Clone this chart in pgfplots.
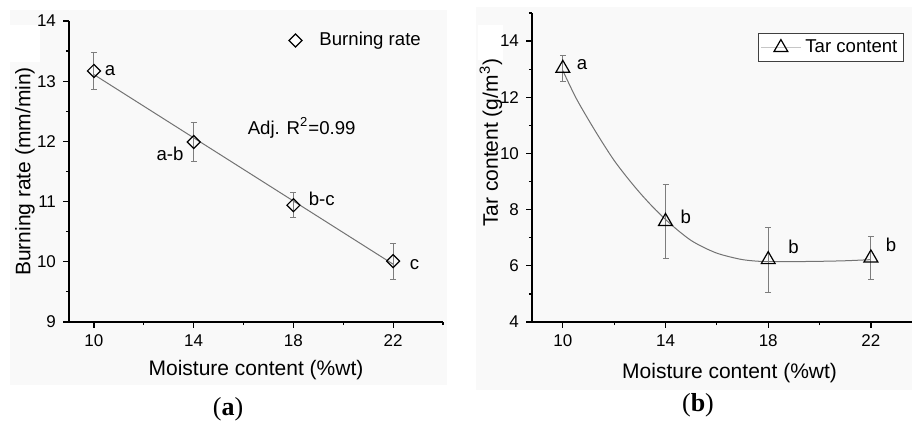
\documentclass[border=0pt]{standalone}
\usepackage{fontspec}
\setmainfont{Liberation Sans}
\newfontfamily\capfont{Liberation Serif}
\usepackage{pgfplots}
\pgfplotsset{compat=1.18}
\definecolor{panelbg}{RGB}{249,249,249}
\definecolor{fitgray}{RGB}{115,115,115}
\definecolor{errgray}{RGB}{125,125,125}

\pgfplotsset{
  panel/.style={
    scale only axis,
    axis lines*=left,
    axis line style={line width=0.7pt},
    tick align=outside,
    major tick length=3pt, minor tick length=1.6pt,
    every tick/.style={black, line width=0.6pt},
    tick label style={font=\fontsize{8.5}{10}\selectfont},
    /pgf/number format/assume math mode=true,
    label style={font=\fontsize{10.5}{12}\selectfont},
    xtick={10,14,18,22},
    xlabel={Moisture content (\%wt)},
    clip=false,
  },
  errs/.style={
    error bars/.cd, y dir=both, y explicit,
    error bar style={errgray, line width=0.5pt},
    error mark options={rotate=90, mark size=1.5pt, errgray, line width=0.5pt},
  },
  burnlegend/.style={
    legend image code/.code={
      \path[draw=none, fill=none] (0pt,0pt) rectangle (20pt,0.1pt);
      \draw[black, line width=0.6pt, fill=white] (10pt,3.25pt) -- (13.25pt,0pt)
        -- (10pt,-3.25pt) -- (6.75pt,0pt) -- cycle;
    },
  },
  tarlegend/.style={
    legend image code/.code={
      \draw[gray!45, line width=0.5pt] (0pt,0pt) -- (20pt,0pt);
      \draw[mark repeat=2, mark phase=2, ##1] plot coordinates {(0pt,0pt) (10pt,0pt) (20pt,0pt)};
    },
  },
}
\newcommand{\ann}{\fontsize{9.3}{11}\selectfont}

\begin{document}
\begin{tikzpicture}
\useasboundingbox (0pt,0pt) rectangle (456pt,211.5pt);
\fill[panelbg] (5pt,19pt) rectangle (223.5pt,206.5pt);
\fill[panelbg] (238pt,16.5pt) rectangle (456pt,208pt);
\fill[white] (5pt,180.5pt) rectangle (20pt,199pt);
\fill[white] (239pt,181.5pt) rectangle (251.5pt,199pt);

% (a) burning rate
\begin{axis}[panel,
  at={(34.5pt,50.5pt)}, anchor=south west,
  width=187pt, height=150.5pt,
  xmin=9, xmax=24, ymin=9, ymax=14,
  ytick={9,10,11,12,13,14},
  minor xtick={12,16,20,24},
  minor ytick={9.5,10.5,11.5,12.5,13.5},
  ylabel={Burning rate (mm/min)},
  ylabel style={at={(axis description cs:-0.118,0.5)}, anchor=center},
  xlabel style={at={(axis description cs:0.5,-0.16)}, anchor=center},
  legend style={draw=none, fill=none, at={(axis description cs:0.535,0.935)},
    anchor=west, font=\ann},
]
\addplot[fitgray, line width=0.5pt, forget plot] coordinates {(10,13.11) (22,9.96)};
\addplot[only marks, mark=square, mark size=2.3pt,
  mark options={rotate=45, fill=white, draw=black, line width=0.6pt}, burnlegend, errs]
  coordinates {(10,13.17) +- (0,0.30) (14,11.99) +- (0,0.33)
               (18,10.94) +- (0,0.21) (22,10.01) +- (0,0.30)};
\legend{Burning rate}
\node[font=\ann] at (axis cs:10.65,13.18) {a};
\node[font=\ann] at (axis cs:13.05,11.8) {a-b};
\node[font=\ann] at (axis cs:19.14,11.04) {b-c};
\node[font=\ann] at (axis cs:22.86,9.95) {c};
\node[font=\ann] at (axis cs:18.33,12.22) {Adj. R\textsuperscript{2}=0.99};
\end{axis}

% (b) tar content
\begin{axis}[panel,
  at={(266pt,50.5pt)}, anchor=south west,
  width=190pt, height=154.5pt,
  xmin=8.8, xmax=23.6, ymin=4, ymax=15,
  ytick={4,6,8,10,12,14},
  minor xtick={12,16,20},
  minor ytick={5,7,9,11,13,15},
  ylabel={Tar content (g/m\textsuperscript{3})},
  ylabel style={at={(axis description cs:-0.108,0.58)}, anchor=center},
  xlabel style={at={(axis description cs:0.52,-0.165)}, anchor=center},
  legend style={draw=black!75, line width=0.6pt, fill=white,
    at={(axis description cs:0.979,0.935)}, anchor=north east,
    font=\ann, inner sep=1pt},
]
\addplot[fitgray, line width=0.5pt, smooth, forget plot] coordinates {
  (10,12.95) (10.5,12.0) (11,11.2) (11.5,10.45) (12,9.75) (12.5,9.15)
  (13,8.6) (13.5,8.1) (14,7.65) (14.5,7.25) (15,6.9) (15.5,6.65)
  (16,6.45) (16.5,6.32) (17,6.22) (17.5,6.17) (18,6.15) (19,6.15)
  (20,6.16) (21,6.18) (22,6.22)};
\addplot[only marks, mark=triangle, mark size=4pt,
  mark options={fill=white, draw=black, line width=0.6pt}, tarlegend, errs]
  coordinates {(10,13.03) +- (0,0.46) (14,7.58) +- (0,1.32)
               (18,6.22) +- (0,1.16) (22,6.28) +- (0,0.78)};
\legend{Tar content}
\node[font=\ann] at (axis cs:10.75,13.15) {a};
\node[font=\ann] at (axis cs:14.79,7.76) {b};
\node[font=\ann] at (axis cs:18.99,6.69) {b};
\node[font=\ann] at (axis cs:22.78,6.73) {b};
\end{axis}

\node[font=\capfont\fontsize{13}{15}\selectfont] at (114pt,7pt) {(\textbf{a})};
\node[font=\capfont\fontsize{13}{15}\selectfont] at (349pt,9pt) {(\textbf{b})};
\end{tikzpicture}
\end{document}
